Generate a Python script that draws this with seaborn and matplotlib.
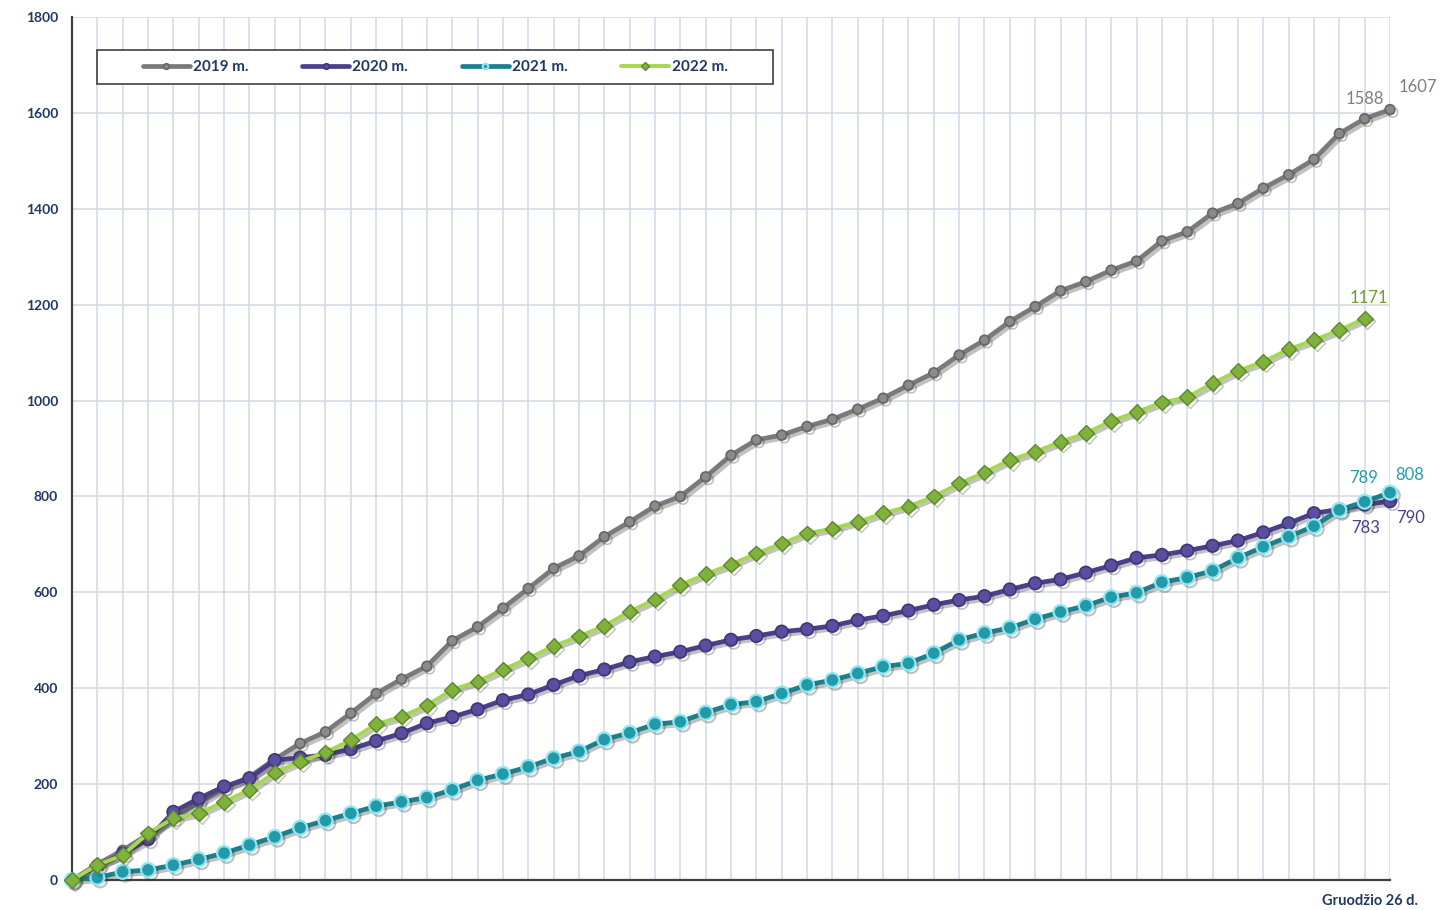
import matplotlib
matplotlib.use('Agg')
import matplotlib.pyplot as plt
import matplotlib.patheffects as pe
from matplotlib.patches import Rectangle
import numpy as np
import pandas as pd
import seaborn as sns

# savaitės nuo metų pradžios iki gruodžio 26 d.
weeks = list(range(53))

y2019 = [0, 33, 62, 95, 128, 162, 192, 215, 252, 285, 309, 348, 389, 419, 446,
         499, 528, 567, 608, 650, 676, 716, 747, 780, 800, 841, 886, 918, 928,
         946, 961, 982, 1005, 1032, 1058, 1095, 1126, 1165, 1196, 1229, 1248,
         1272, 1291, 1333, 1352, 1391, 1411, 1443, 1471, 1503, 1557, 1588, 1607]
y2020 = [0, 28, 55, 85, 142, 170, 195, 212, 250, 255, 261, 273, 290, 306, 327,
         340, 356, 375, 387, 407, 426, 439, 455, 466, 476, 489, 501, 509, 518,
         523, 530, 542, 551, 562, 574, 584, 592, 606, 619, 627, 641, 656, 672,
         678, 687, 697, 708, 725, 744, 765, 773, 783, 790]
y2021 = [0, 5, 17, 21, 31, 43, 56, 73, 90, 109, 124, 139, 154, 163, 172, 188,
         208, 221, 236, 254, 268, 293, 307, 325, 330, 349, 366, 372, 389, 407,
         417, 431, 445, 452, 473, 501, 515, 526, 544, 559, 572, 590, 599, 621,
         631, 645, 672, 695, 716, 738, 772, 789, 808]
y2022 = [0, 31, 52, 97, 129, 139, 163, 188, 224, 247, 266, 292, 325, 341, 364,
         397, 414, 439, 462, 488, 508, 530, 560, 585, 615, 638, 658, 681, 702,
         723, 733, 747, 765, 779, 800, 827, 850, 876, 893, 914, 932, 957, 976,
         996, 1007, 1036, 1062, 1081, 1107, 1126, 1147, 1171]

labels = ['2019 m.', '2020 m.', '2021 m.', '2022 m.']
last_label = 'Gruodžio 26 d.'

NAVY = '#1f3864'

sns.set_theme(style='white')
plt.rcParams['font.family'] = ['Lato', 'DejaVu Sans']

fig = plt.figure(figsize=(14.4, 9.1), dpi=100)
ax = fig.add_axes([72 / 1440, 30 / 910, 1318 / 1440, 863 / 910])

shadow = [pe.SimpleLineShadow(offset=(2, -2), alpha=0.3, shadow_color='#333333'), pe.Normal()]

styles = [
    dict(color='#7a7a7a', lw=3.4, marker='o', ms=7, mfc='#8a8a8a', mec='#666666', mew=1.2),
    dict(color='#4b3f8c', lw=3.4, marker='o', ms=9, mfc='#5a4ea0', mec='#3f3578', mew=1.2),
    dict(color='#1d7f8c', lw=3.4, marker='o', ms=10, mfc='#239aa7', mec='#8fe6f2', mew=1.6),
    dict(color='#a5d84e', lw=2.8, marker='D', ms=8, mfc='#7fb13c', mec='#5c8a2a', mew=1.0),
]
series = [y2019, y2020, y2021, y2022]

for lab, ys, st in zip(labels, series, styles):
    sns.lineplot(x=weeks[:len(ys)], y=ys, ax=ax, label=lab, color=st['color'],
                 linewidth=st['lw'], marker=st['marker'], markersize=st['ms'],
                 markerfacecolor=st['mfc'], markeredgecolor=st['mec'],
                 markeredgewidth=st['mew'], clip_on=False, zorder=3)

for line in ax.get_lines():
    line.set_path_effects(shadow)

ax.set_xlim(0, 52)
ax.set_ylim(0, 1800)
ax.set_yticks(range(0, 1801, 200))
ax.set_xticks(weeks)
ax.set_xticklabels([''] * len(weeks))
ax.grid(True, color='#d3d9e6', lw=1.1)
ax.set_axisbelow(True)

for s in ['top', 'right']:
    ax.spines[s].set_visible(False)
for s in ['left', 'bottom']:
    ax.spines[s].set_color('#404040')
    ax.spines[s].set_linewidth(1.6)
ax.tick_params(axis='both', direction='out', length=4, width=1.4, color='#303030')
ax.tick_params(axis='y', labelsize=10, labelcolor=NAVY, pad=6)
for t in ax.get_yticklabels():
    t.set_fontweight('bold')

# legenda su atskiru rėmeliu
ax.add_patch(Rectangle((0.019, 0.922), 0.513, 0.04, transform=ax.transAxes,
                       fill=True, facecolor='white', edgecolor='#404040', lw=1.2,
                       clip_on=False, zorder=4))
leg = ax.legend(loc='center', bbox_to_anchor=(0.2755, 0.942), ncol=4, frameon=False,
                handlelength=3.1, handletextpad=0.2, columnspacing=3.5,
                labelcolor=NAVY, prop={'weight': 'bold', 'size': 11})
leg.set_zorder(5)
for h in leg.legend_handles:
    h.set_markersize(4)
    h.set_path_effects([])

# reikšmių etiketės
anns = [
    (51, y2019[51], '1588', '#7f7f7f', (0, 14), 'center'),
    (52, y2019[52], '1607', '#7f7f7f', (6, 16), 'left'),
    (51, y2022[51], '1171', '#6f9a2f', (3, 15), 'center'),
    (51, y2021[51], '789', '#2a9aa8', (-1, 17), 'center'),
    (52, y2021[52], '808', '#2a9aa8', (14, 13), 'center'),
    (51, y2020[51], '783', '#4b3f8c', (1, -17), 'center'),
    (52, y2020[52], '790', '#4b3f8c', (15, -12), 'center'),
]
for x, y, txt, col, off, ha in anns:
    ax.annotate(txt, (x, y), xytext=off, textcoords='offset points', ha=ha, va='center',
                fontsize=12, color=col, annotation_clip=False)

ax.annotate(last_label, (52, 0), xytext=(20, -15), textcoords='offset points',
            ha='right', va='center', fontsize=10.5, color=NAVY, fontweight='bold',
            annotation_clip=False)

fig.savefig('out.png', dpi=100)
